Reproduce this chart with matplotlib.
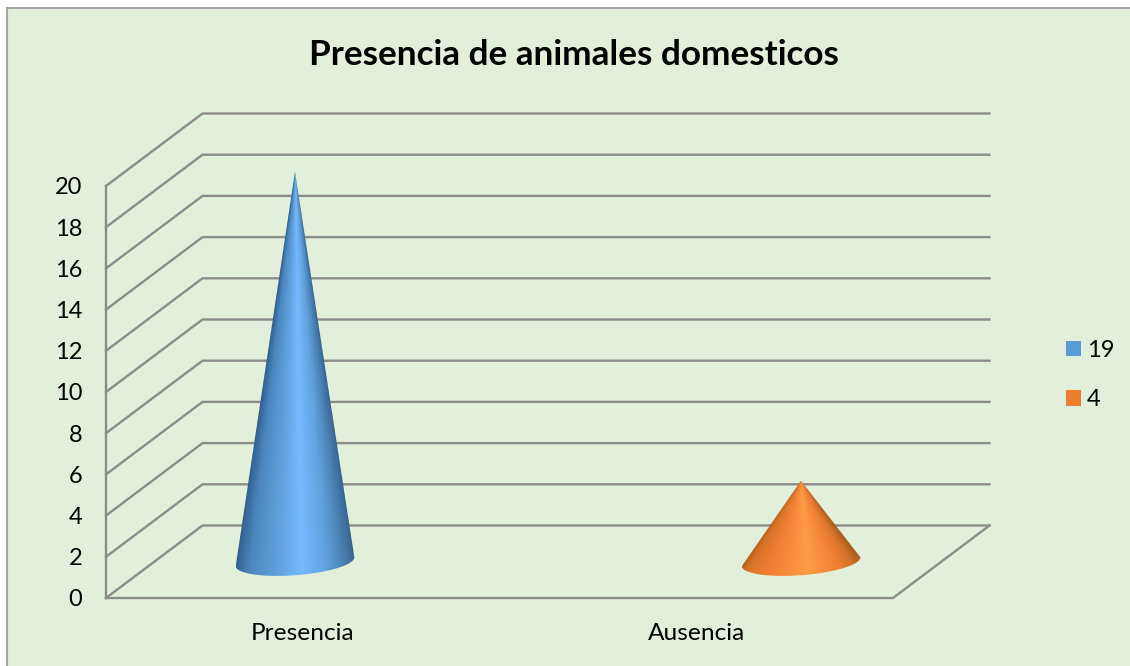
import numpy as np
import matplotlib
matplotlib.use("Agg")
import matplotlib.pyplot as plt
from matplotlib.colors import LinearSegmentedColormap
from matplotlib.patches import Patch, PathPatch, Rectangle
from matplotlib.path import Path

plt.rcParams["font.family"] = ["Lato", "DejaVu Sans"]

title = "Presencia de animales domesticos"
categories = ["Presencia", "Ausencia"]
values = [19, 4]
legend_labels = ["19", "4"]
y_ticks = [0, 2, 4, 6, 8, 10, 12, 14, 16, 18, 20]

W, H = 1130, 666
BG = "#E2EFDA"
GRID = "#8C8C8C"

# plot box of the front plane in pixels, top-left origin
L, R, B, T = 106, 893, 598, 186
DEPTH_X, DEPTH_Y = 96.5, 72.5
CONE_X = [295, 801]

fig = plt.figure(figsize=(W / 100, H / 100), dpi=100, facecolor="white")
fig.add_artist(Rectangle((7 / W, -0.1), 1.2, 1.1 - 8 / H, transform=fig.transFigure,
                         fc=BG, ec="#A6A6A6", lw=1.5, zorder=-1))

ax = fig.add_axes([L / W, 1 - B / H, (R - L) / W, (B - T) / H])
ax.patch.set_alpha(0)
ax.set_xlim(0, 2)
ax.set_ylim(0, 20)
sx = (R - L) / 2      # px per x unit
sy = (B - T) / 20     # px per y unit
dx, dy = DEPTH_X / sx, DEPTH_Y / sy

# walls and floor
for v in y_ticks:
    ax.plot([0, dx, 2 + dx], [v, v + dy, v + dy], color=GRID, lw=1.7, clip_on=False,
            solid_joinstyle="miter", zorder=1)
ax.plot([0, 0], [0, 20], color=GRID, lw=1.7, clip_on=False, zorder=1)
ax.plot([0, 2, 2 + dx], [0, 0, dy], color=GRID, lw=1.7, clip_on=False,
        solid_joinstyle="miter", zorder=1)

for s in ax.spines.values():
    s.set_visible(False)
ax.set_yticks(y_ticks)
ax.set_xticks([0.5, 1.5])
ax.set_xticklabels(categories)
ax.tick_params(axis="both", length=0, labelsize=17, labelcolor="black")
ax.tick_params(axis="y", pad=17)
ax.tick_params(axis="x", labelsize=17.6, pad=18)


def cone(cx_px, value, stops):
    # outline in data units; base ellipse is tilted a little as in 3d view
    cx = (cx_px - L) / sx
    base_y = 0.48 * dy
    a, b, tilt = 59.5, 13.5, np.radians(4.4)
    t = np.linspace(np.pi * 1.0, np.pi * 2.0, 60)
    ex = a * np.cos(t) * np.cos(tilt) - b * np.sin(t) * np.sin(tilt)
    ey = a * np.cos(t) * np.sin(tilt) + b * np.sin(t) * np.cos(tilt)
    xs = cx + ex / sx
    ys = base_y + (ey + 1.5) / sy
    verts = np.vstack([[cx, value + base_y], np.column_stack([xs, ys]), [cx, value + base_y]])
    clip = PathPatch(Path(verts), transform=ax.transData, fc="none", ec="none")
    ax.add_patch(clip)

    # shading runs across the cone and converges on the tip
    xg = np.linspace(xs.min(), xs.max(), 300)
    yg = np.linspace(ys.min(), value + base_y, 400)
    gx, gy = np.meshgrid(xg, yg)
    half = (xs.max() - xs.min()) / 2 * np.clip((value + base_y - gy) / value, 0.002, None)
    u = np.clip((gx - cx) / half * 0.5 + 0.5, 0, 1)
    cmap = LinearSegmentedColormap.from_list("shade", stops)
    im = ax.imshow(u, extent=[xg[0], xg[-1], yg[0], yg[-1]], origin="lower", cmap=cmap,
                   vmin=0, vmax=1, aspect="auto", zorder=3, interpolation="bilinear")
    # tip pokes out above the front plane, so don't stop at the axes box
    im.set_clip_box(fig.bbox)
    im.set_clip_path(clip)
    ax.set_xlim(0, 2)
    ax.set_ylim(0, 20)


blue = [(0, "#33618E"), (0.12, "#4B86BE"), (0.3, "#5B9BD5"), (0.55, "#75B9FF"),
        (0.75, "#62A4E0"), (0.9, "#4A82B5"), (1, "#3A6690")]
orange = [(0, "#B0601F"), (0.08, "#D87229"), (0.25, "#F07F33"), (0.55, "#FF9B45"),
          (0.8, "#F08034"), (0.93, "#D2702C"), (1, "#B0601F")]
for x_px, v, st in zip(CONE_X, values, [blue, orange]):
    cone(x_px, v, st)

fig.text(574 / W, 1 - 55 / H, title, fontsize=25.3, fontweight="bold", ha="center", va="center")

handles = [Patch(fc="#5B9BD5", ec="none"), Patch(fc="#ED7D31", ec="none")]
leg = fig.legend(handles, legend_labels, frameon=False, fontsize=17, loc="center left",
                 bbox_to_anchor=(1059 / W, 1 - 375 / H), handlelength=0.64, handleheight=0.64,
                 handletextpad=0.25, labelspacing=1.2, borderpad=0.3, borderaxespad=0)

fig.savefig("out.png", dpi=100, facecolor=fig.get_facecolor())
